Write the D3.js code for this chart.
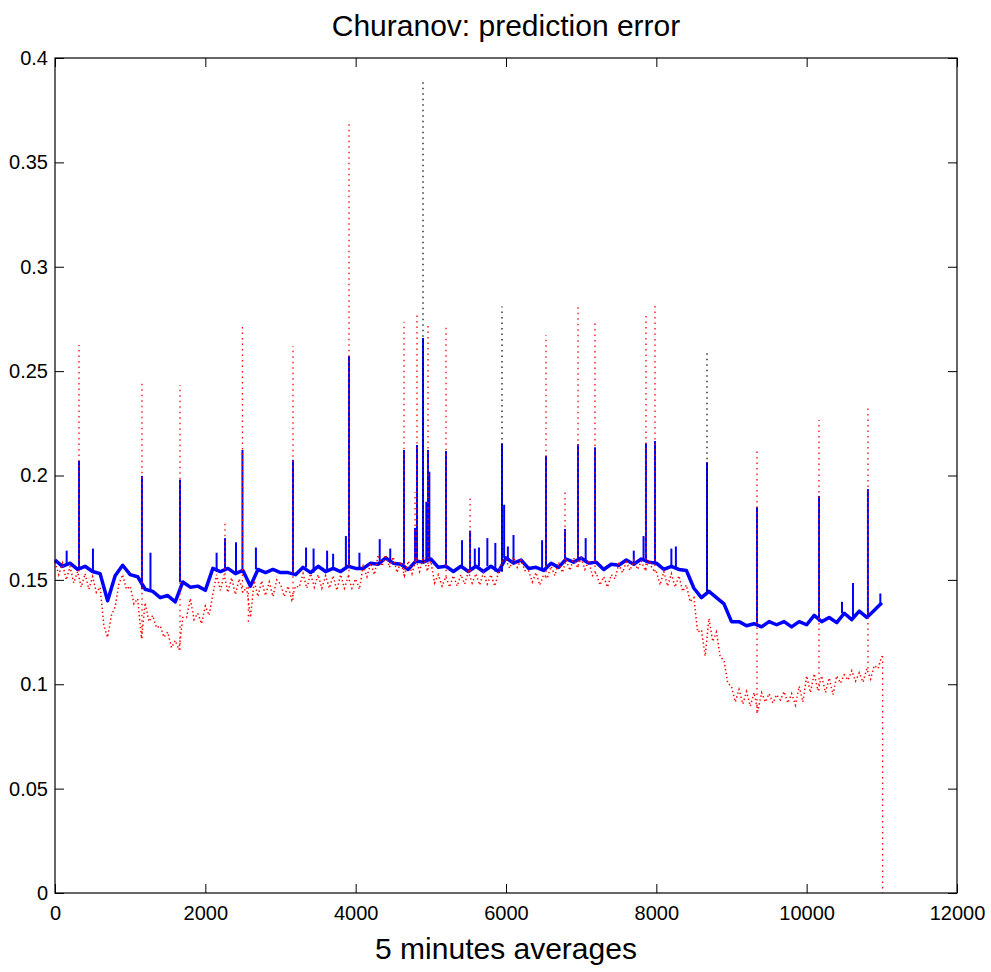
<!DOCTYPE html>
<meta charset="utf-8">
<style>
body { margin: 0; background: #fff; }
text { font-family: "Liberation Sans", Arial, sans-serif; fill: #000; }
.tick text { font-size: 20px; }
.tick line { stroke: #000; }
</style>
<body>
<div id="chart"></div>
<script src="https://cdn.jsdelivr.net/npm/d3@7"></script>
<script>

// blue series: one value every 100 samples, 0 .. 11000
var blueStep = 100;
var blueVals = [
  .1595,.1565,.1580,.1550,.1565,.1540,.1530,.1400,.1520,.1570,
  .1525,.1515,.1455,.1445,.1415,.1425,.1395,.1490,.1465,.1470,
  .1450,.1555,.1540,.1555,.1530,.1545,.1470,.1550,.1535,.1550,
  .1535,.1535,.1525,.1560,.1535,.1565,.1540,.1555,.1540,.1565,
  .1555,.1555,.1580,.1575,.1605,.1580,.1575,.1550,.1590,.1585,
  .1600,.1560,.1565,.1540,.1565,.1540,.1565,.1540,.1565,.1540,
  .1605,.1580,.1595,.1555,.1560,.1545,.1580,.1560,.1600,.1585,
  .1605,.1580,.1585,.1550,.1575,.1570,.1595,.1575,.1600,.1585,
  .1580,.1550,.1565,.1550,.1545,.1460,.1415,.1445,.1415,.1385,
  .1300,.1300,.1280,.1290,.1275,.1300,.1285,.1300,.1275,.1300,
  .1285,.1330,.1300,.1320,.1295,.1340,.1310,.1350,.1320,.1355,
  .139
];

// red series: one value every 50 samples, 0 .. 11000
var redStep = 50;
var redVals = [
  .1585,.1525,.1580,.1500,.1565,.1485,.1540,.1465,.1530,.1455,.1515,.1440,.1465,.1280,.1225,.1330,.1370,.1480,.1525,.1455,
  .1470,.1385,.1410,.1220,.1390,.1300,.1330,.1270,.1280,.1225,.1250,.1175,.1210,.1165,.1320,.1320,.1410,.1310,.1340,.1290,
  .1375,.1330,.1430,.1525,.1450,.1525,.1440,.1510,.1430,.1505,.1440,.1465,.1320,.1495,.1420,.1495,.1425,.1490,.1420,.1500,
  .1480,.1420,.1470,.1405,.1470,.1465,.1530,.1460,.1530,.1465,.1525,.1460,.1520,.1460,.1520,.1450,.1525,.1460,.1515,.1460,
  .1505,.1455,.1565,.1515,.1580,.1525,.1620,.1565,.1620,.1560,.1610,.1535,.1585,.1520,.1590,.1530,.1600,.1540,.1610,.1550,
  .1590,.1485,.1525,.1470,.1515,.1465,.1520,.1470,.1525,.1480,.1540,.1485,.1530,.1475,.1535,.1480,.1525,.1470,.1535,.1590,
  .1595,.1555,.1610,.1560,.1595,.1545,.1545,.1490,.1535,.1475,.1525,.1510,.1565,.1520,.1585,.1535,.1595,.1545,.1605,.1560,
  .1605,.1550,.1590,.1520,.1535,.1475,.1515,.1465,.1525,.1505,.1575,.1535,.1585,.1545,.1595,.1550,.1590,.1545,.1595,.1550,
  .1540,.1475,.1540,.1470,.1530,.1465,.1520,.1445,.1475,.1395,.1415,.1250,.1260,.1135,.1315,.1205,.1250,.1130,.1115,.1005,
  .0990,.0915,.0975,.0905,.0965,.0895,.0960,.0870,.0960,.0915,.0955,.0910,.0950,.0925,.0965,.0910,.0955,.0900,.0990,.0915,
  .1040,.0960,.1050,.0970,.1040,.0960,.1030,.0950,.1040,.1005,.1045,.1020,.1065,.1015,.1055,.1010,.1075,.1025,.1090,.1075,
  .1135
];

// spikes: sample index and peak value
var blueSpikeX = [155,319,505,1157,1270,1663,2150,2262,2408,2494,2673,3166,3340,3440,3620,3700,3870,3911,4050,4320,
  4460,4643,4790,4816,4896,4940,4962,4980,5202,5415,5522,5585,5640,5752,5858,5947,5975,6025,6100,6480,
  6532,6785,6958,7060,7184,7700,7830,7862,7982,8200,8260,8674,9339,10164,10470,10616,10815,10980];
var blueSpikeY = [.164,.207,.165,.1998,.163,.198,.163,.170,.168,.2122,.1655,.2075,.1655,.165,.164,.1625,.171,.2572,.163,.1695,
  .165,.2122,.1749,.2146,.2659,.1874,.2122,.2018,.2117,.169,.1736,.165,.1655,.170,.1677,.2154,.186,.166,.1715,.169,
  .2094,.1744,.215,.170,.2135,.164,.171,.2155,.2165,.165,.166,.2064,.1849,.1902,.1395,.1485,.1935,.1435];

var redSpikeX = [319,1157,1663,2262,2494,2572,3166,3911,4643,4790,4816,4962,5202,5522,6532,6785,6958,7184,7862,7982,9339,9339,10164,10815,11010];
var redSpikeY = [.2625,.2443,.2434,.178,.273,.128,.262,.370,.2737,.192,.2785,.2731,.2713,.189,.2673,.192,.2808,.2745,.278,.283,.213,.086,.2266,.2323,0];

var blackSpikeX = [4896,5947,8674];
var blackSpikeY = [.3885,.281,.260];

var xTicks = [0,2000,4000,6000,8000,10000,12000];
var yTicks = [0,0.05,0.1,0.15,0.2,0.25,0.3,0.35,0.4];

var margin = {top: 58, left: 55},
    width = 902,
    height = 835;

var svg = d3.select("#chart")
  .append("svg")
    .attr("width", 991)
    .attr("height", 972);

var g = svg.append("g")
    .attr("transform", "translate(" + margin.left + "," + margin.top + ")");

var x = d3.scaleLinear().domain([0, 12000]).range([0, width]);
var y = d3.scaleLinear().domain([0, 0.4]).range([height, 0]);

var line = d3.line()
    .x(function(d) { return x(d[0]); })
    .y(function(d) { return y(d[1]); });

var blue = blueVals.map(function(v, i) { return [i * blueStep, v]; });
var red = redVals.map(function(v, i) { return [i * redStep, v]; });

function footOf(vals, step, sx) {
  var i = Math.min(vals.length - 1, Math.round(sx / step));
  return vals[i];
}

// blue
g.append("path")
    .datum(blue)
    .attr("d", line)
    .attr("fill", "none")
    .attr("stroke", "#0000ff")
    .attr("stroke-width", 3.5)
    .attr("stroke-linejoin", "round");

g.selectAll(".bspike")
    .data(blueSpikeX)
    .enter()
    .append("path")
      .attr("class", "bspike")
      .attr("d", function(d, i) { return line([[d, footOf(blueVals, blueStep, d)], [d, blueSpikeY[i]]]); })
      .attr("fill", "none")
      .attr("stroke", "#0000ff")
      .attr("stroke-width", 2);

// black dotted
g.selectAll(".kspike")
    .data(blackSpikeX)
    .enter()
    .append("path")
      .attr("class", "kspike")
      .attr("d", function(d, i) { return line([[d, footOf(blueVals, blueStep, d)], [d, blackSpikeY[i]]]); })
      .attr("fill", "none")
      .attr("stroke", "#000")
      .attr("stroke-width", 1.2)
      .attr("stroke-dasharray", "1.5,4");

// red dotted
g.append("path")
    .datum(red)
    .attr("d", line)
    .attr("fill", "none")
    .attr("stroke", "#ff0000")
    .attr("stroke-width", 1.5)
    .attr("stroke-dasharray", "1.4,2.6");

g.selectAll(".rspike")
    .data(redSpikeX)
    .enter()
    .append("path")
      .attr("class", "rspike")
      .attr("d", function(d, i) { return line([[d, footOf(redVals, redStep, d)], [d, redSpikeY[i]]]); })
      .attr("fill", "none")
      .attr("stroke", "#ff0000")
      .attr("stroke-width", 1.3)
      .attr("stroke-dasharray", "1.5,4");

// axes, ticks pointing inward on all sides
g.append("g")
    .attr("transform", "translate(0," + height + ")")
    .call(d3.axisBottom(x).tickValues(xTicks).tickSize(-9).tickPadding(13).tickFormat(d3.format("d")))
    .call(function(a) { a.select(".domain").remove(); });
g.append("g")
    .call(d3.axisTop(x).tickValues(xTicks).tickSize(-9).tickFormat(""))
    .call(function(a) { a.select(".domain").remove(); });
g.append("g")
    .call(d3.axisLeft(y).tickValues(yTicks).tickSize(-9).tickPadding(7).tickFormat(function(d) { return d3.format("")(+d.toFixed(2)); }))
    .call(function(a) { a.select(".domain").remove(); });
g.append("g")
    .attr("transform", "translate(" + width + ",0)")
    .call(d3.axisRight(y).tickValues(yTicks).tickSize(-9).tickFormat(""))
    .call(function(a) { a.select(".domain").remove(); });

g.append("rect")
    .attr("width", width)
    .attr("height", height)
    .attr("fill", "none")
    .attr("stroke", "#000")
    .attr("stroke-width", 1.2);

svg.selectAll(".tick text").attr("font-family", null);

svg.append("text")
    .attr("x", 506)
    .attr("y", 36)
    .attr("text-anchor", "middle")
    .style("font-size", "30px")
    .text("Churanov: prediction error");

svg.append("text")
    .attr("x", 506)
    .attr("y", 959)
    .attr("text-anchor", "middle")
    .style("font-size", "30px")
    .text("5 minutes averages");

</script>
</body>
